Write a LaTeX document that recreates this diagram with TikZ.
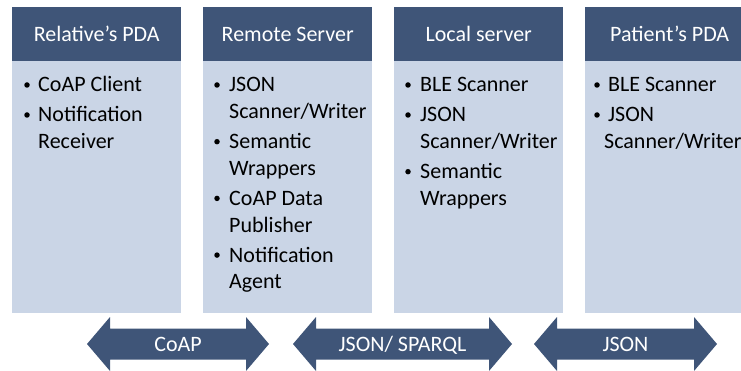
\documentclass[tikz,border=0pt]{standalone}
\usepackage{fontspec}
\setmainfont{Carlito}
\definecolor{hdrc}{HTML}{3F5578}
\definecolor{bodc}{HTML}{CAD5E6}
\begin{document}
\begin{tikzpicture}[x=1pt,y=-1pt,
  hdrbox/.style={fill=hdrc, draw=none, anchor=north west, minimum width=169pt, minimum height=54pt,
    inner sep=0pt, text=white, font=\fontsize{22}{26.7}\selectfont, text height=14.3pt, text depth=0pt},
  bodbox/.style={fill=bodc, draw=none, anchor=north west, minimum width=169pt, minimum height=252pt, inner sep=0pt},
  itm/.style={anchor=base west, inner sep=0pt, text=black, font=\fontsize{22}{26.7}\selectfont},
  bul/.style={circle, fill=black, draw=none, inner sep=0pt, minimum size=5.5pt, yshift=7pt},
  arr/.style={fill=hdrc, draw=none},
  arrlbl/.style={inner sep=0pt, text=white, font=\fontsize{22}{26.7}\selectfont, text height=14.3pt, text depth=0pt}]
\useasboundingbox (0,0) rectangle (741,371);
\clip (0,0) rectangle (741,371);
% columns
\node[bodbox] (b1) at (12,61) {};
\node[bodbox] (b2) at (203,61) {};
\node[bodbox] (b3) at (394,61) {};
\node[bodbox] (b4) at (585,61) {};
\node[hdrbox] (h1) at (12,7) {Relative’s PDA};
\node[hdrbox] (h2) at (203,7) {Remote Server};
\node[hdrbox] (h3) at (394,7) {Local server};
\node[hdrbox] (h4) at (585,7) {Patient’s PDA};
% column 1
\node[bul] (d11) at (27,92) {};
\node[itm] (t11) at (38,92) {CoAP Client};
\node[bul] (d12) at (27,122) {};
\node[itm] (t12) at (38,122) {Notification};
\node[itm] (t12b) at (38,148.7) {Receiver};
% column 2
\node[bul] (d21) at (217,92) {};
\node[itm] (t21) at (229,92) {JSON};
\node[itm] (t21b) at (229,118.7) {Scanner/Writer};
\node[bul] (d22) at (217,148.7) {};
\node[itm] (t22) at (229,148.7) {Semantic};
\node[itm] (t22b) at (229,175.4) {Wrappers};
\node[bul] (d23) at (217,205.4) {};
\node[itm] (t23) at (229,205.4) {CoAP Data};
\node[bul] (d24) at (217,262.1) {};
\node[itm] (t23b) at (229,232.1) {Publisher};
\node[itm] (t24) at (229,262.1) {Notification};
\node[itm] (t24b) at (229,288.8) {Agent};
% column 3
\node[bul] (d31) at (408,92) {};
\node[itm] (t31) at (420,92) {BLE Scanner};
\node[bul] (d32) at (408,122) {};
\node[itm] (t32) at (420,122) {JSON};
\node[itm] (t32b) at (420,148.7) {Scanner/Writer};
\node[bul] (d33) at (408,178.7) {};
\node[itm] (t33) at (420,178.7) {Semantic};
\node[itm] (t33b) at (420,205.4) {Wrappers};
% column 4
\node[bul] (d41) at (597,92) {};
\node[itm] (t41) at (608,92) {BLE Scanner};
\node[bul] (d42) at (597,122) {};
\node[itm] (t42) at (608,122) {JSON};
\node[itm] (t42b) at (604,148.7) {Scanner/Writer};
% arrows
\path[arr] (87,344) -- (110,317) -- (110,328.5) -- (246,328.5) -- (246,317) -- (269,344)
  -- (246,371) -- (246,359.5) -- (110,359.5) -- (110,371) -- cycle;
\node[arrlbl] (a1) at (178,344) {CoAP};
\path[arr] (293,344) -- (316,317) -- (316,328.5) -- (489,328.5) -- (489,317) -- (512,344)
  -- (489,371) -- (489,359.5) -- (316,359.5) -- (316,371) -- cycle;
\node[arrlbl] (a2) at (402.5,344) {JSON/ SPARQL};
\path[arr] (534,344) -- (557,317) -- (557,328.5) -- (694,328.5) -- (694,317) -- (717,344)
  -- (694,371) -- (694,359.5) -- (557,359.5) -- (557,371) -- cycle;
\node[arrlbl] (a3) at (625.5,344) {JSON};
\end{tikzpicture}
\end{document}
